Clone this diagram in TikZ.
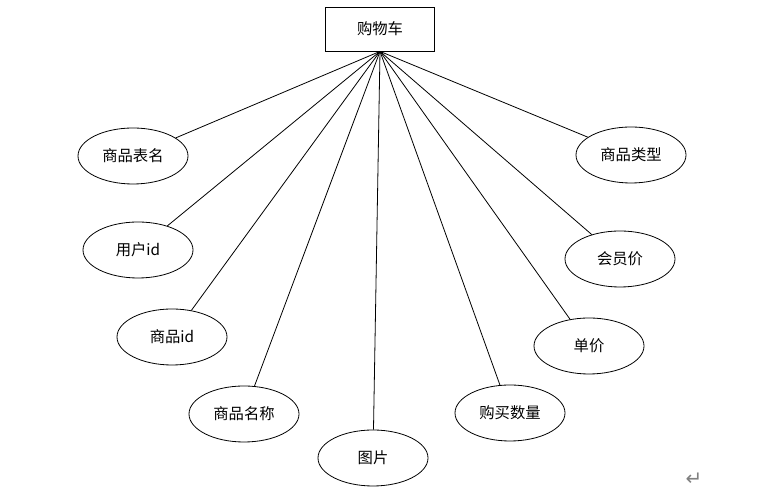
\documentclass[tikz,border=0pt]{standalone}
\usepackage{fontspec}
\setmainfont{Liberation Serif}
\newfontfamily\cjk{Noto Sans CJK SC}
\newfontfamily\symb{DejaVu Sans}
\usepackage{xcolor}
\usetikzlibrary{shapes, positioning, arrows.meta, calc}

\tikzset{
  entity/.style={draw, rectangle, minimum width=81.75pt, minimum height=33pt, inner sep=0pt, font=\cjk\fontsize{11.5}{13}\selectfont},
  attr/.style={draw, ellipse, minimum width=82.5pt, minimum height=42pt, inner sep=0pt, font=\cjk\fontsize{11.5}{13}\selectfont},
  link/.style={line width=0.6pt}
}

\begin{document}
\begin{tikzpicture}[x=0.75pt, y=-0.75pt, line width=0.6pt]
\useasboundingbox (0,0) rectangle (783,498);
\node[entity] (cart) at (380,29) {购物车};
\node[attr] (tblname) at (133,156) {商品表名};
\node[attr] (userid) at (138,250) {用户id};
\node[attr] (goodsid) at (172,337) {商品id};
\node[attr] (goodsname) at (244,414) {商品名称};
\node[attr] (pic) at (373,458) {图片};
\node[attr] (buynum) at (510,413) {购买数量};
\node[attr] (price) at (589,346) {单价};
\node[attr] (vipprice) at (620,259) {会员价};
\node[attr] (goodstype) at (631,155) {商品类型};
\node[text=gray, font=\symb\fontsize{15}{17}\selectfont] (mark) at (694,479) {↵};
\foreach \a in {tblname, userid, goodsid, goodsname, pic, buynum, price, vipprice, goodstype}
  \draw[link] (cart.south) -- (\a);
\end{tikzpicture}
\end{document}
